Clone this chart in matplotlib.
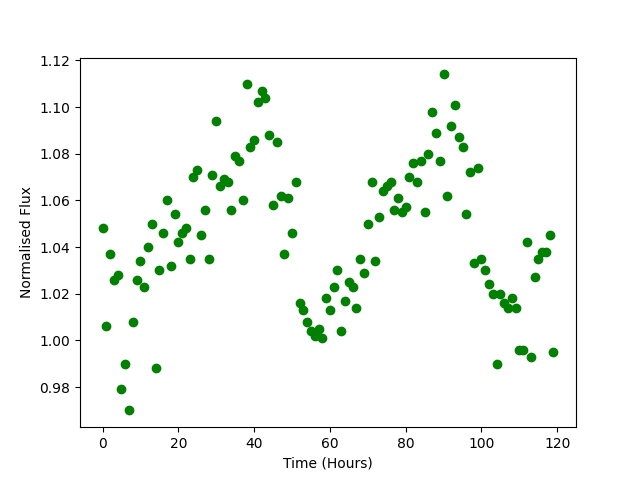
import numpy as np
import matplotlib
matplotlib.use("Agg")
import matplotlib.pyplot as plt

# tempo em horas, um ponto por hora
tempo = np.arange(120)

fluxo = [
    1.048, 1.006, 1.037, 1.026, 1.028, 0.979, 0.990, 0.970, 1.008, 1.026,
    1.034, 1.023, 1.040, 1.050, 0.988, 1.030, 1.046, 1.060, 1.032, 1.054,
    1.042, 1.046, 1.048, 1.035, 1.070, 1.073, 1.045, 1.056, 1.035, 1.071,
    1.094, 1.066, 1.069, 1.068, 1.056, 1.079, 1.077, 1.060, 1.110, 1.083,
    1.086, 1.102, 1.107, 1.104, 1.088, 1.058, 1.085, 1.062, 1.037, 1.061,
    1.046, 1.068, 1.016, 1.013, 1.008, 1.004, 1.002, 1.005, 1.001, 1.018,
    1.013, 1.023, 1.030, 1.004, 1.017, 1.025, 1.023, 1.014, 1.035, 1.029,
    1.050, 1.068, 1.034, 1.053, 1.064, 1.066, 1.068, 1.056, 1.061, 1.055,
    1.057, 1.070, 1.076, 1.068, 1.077, 1.055, 1.080, 1.098, 1.089, 1.077,
    1.114, 1.062, 1.092, 1.101, 1.087, 1.083, 1.054, 1.072, 1.033, 1.074,
    1.035, 1.030, 1.024, 1.020, 0.990, 1.020, 1.016, 1.014, 1.018, 1.014,
    0.996, 0.996, 1.042, 0.993, 1.027, 1.035, 1.038, 1.038, 1.045, 0.995,
]

plt.figure(figsize=(6.4, 4.8), dpi=100)
plt.scatter(tempo, fluxo, color="green")
plt.xlabel("Time (Hours)")
plt.ylabel("Normalised Flux")
plt.savefig("out.png")
plt.close()
